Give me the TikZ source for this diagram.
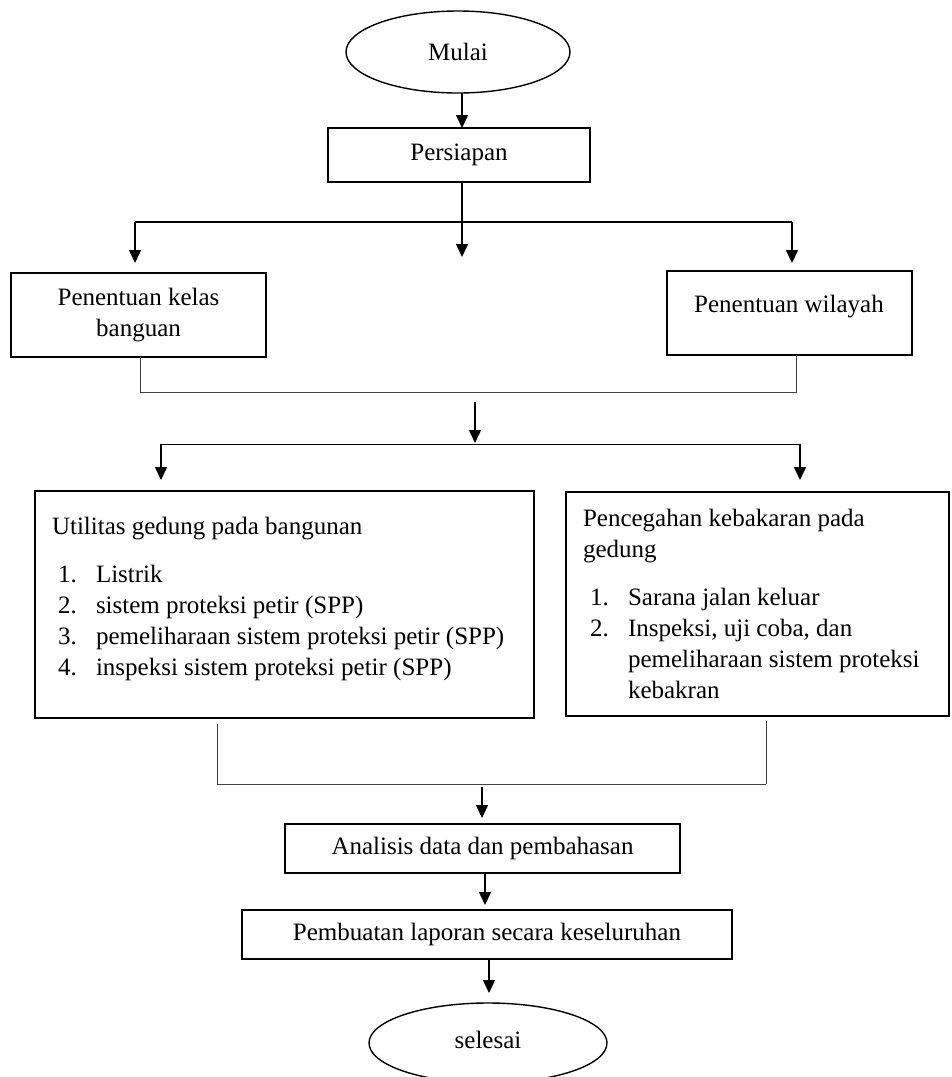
\documentclass[tikz,border=0pt]{standalone}
\usepackage{fontspec}
\setmainfont{Liberation Serif}
\usetikzlibrary{arrows.meta,shapes.geometric}
\begin{document}
\begin{tikzpicture}[x=1pt,y=-1pt,
  every node/.style={font=\fontsize{25pt}{31pt}\selectfont, inner sep=0pt, outer sep=0pt},
  stepbox/.style={draw, line width=1.6pt, rectangle},
  termbox/.style={draw, line width=1.4pt, ellipse},
  txt/.style={anchor=base west},
  arr/.style={line width=1.5pt, -{Triangle[width=12pt,length=13pt]}},
  joinline/.style={line width=0.9pt, draw=black!75}
]
\useasboundingbox (0,0) rectangle (952,1077);

% terminals and boxes
\node[termbox, minimum width=224pt, minimum height=82pt] (mulai) at (458,52) {Mulai};
\node[stepbox, minimum width=262pt, minimum height=54pt] (persiapan) at (459,155) {Persiapan};
\node[stepbox, minimum width=255pt, minimum height=84pt, align=center] (kelas) at (138.5,315) {Penentuan kelas\\banguan};
\node[stepbox, minimum width=245pt, minimum height=84pt] (wilayah) at (789.5,313) {};
\node (wilayahtxt) at (789,307) {Penentuan wilayah};
\node[stepbox, minimum width=499pt, minimum height=227pt] (util) at (284.5,604.5) {};
\node[stepbox, minimum width=383pt, minimum height=224pt] (cegah) at (757.5,604) {};
\node[stepbox, minimum width=395pt, minimum height=49pt] (analisis) at (482.5,848.5) {Analisis data dan pembahasan};
\node[stepbox, minimum width=490pt, minimum height=49pt] (laporan) at (487,934.5) {Pembuatan laporan secara keseluruhan};
\node[termbox, minimum width=238pt, minimum height=80pt] (selesai) at (488,1043) {};
\node (selesaitxt) at (488,1040) {selesai};

% text of the left big box
\node[txt] (u0) at (52,534) {Utilitas gedung pada bangunan};
\node[txt] (u1n) at (58,582) {1.};
\node[txt] (u1) at (96,582) {Listrik};
\node[txt] (u2n) at (58,613) {2.};
\node[txt] (u2) at (96,613) {sistem proteksi petir (SPP)};
\node[txt] (u3n) at (58,644) {3.};
\node[txt] (u3) at (96,644) {pemeliharaan sistem proteksi petir (SPP)};
\node[txt] (u4n) at (58,675) {4.};
\node[txt] (u4) at (96,675) {inspeksi sistem proteksi petir (SPP)};

% text of the right big box
\node[txt] (c0) at (583,526) {Pencegahan kebakaran pada};
\node[txt] (c0b) at (583,557) {gedung};
\node[txt] (c1n) at (590,605) {1.};
\node[txt] (c1) at (628,605) {Sarana jalan keluar};
\node[txt] (c2n) at (590,636) {2.};
\node[txt] (c2) at (628,636) {Inspeksi, uji coba, dan};
\node[txt] (c2b) at (628,667) {pemeliharaan sistem proteksi};
\node[txt] (c2c) at (628,698) {kebakran};

% junction coordinates
\coordinate (m1) at (462,257);
\coordinate (h1l) at (135,222);
\coordinate (h1r) at (792,222);
\coordinate (j1l) at (140,392);
\coordinate (j1r) at (796,392);
\coordinate (a2s) at (475,402);
\coordinate (a2e) at (475,443);
\coordinate (h2l) at (161,444);
\coordinate (h2r) at (800,444);
\coordinate (j3l) at (217,784);
\coordinate (j3r) at (766,784);
\coordinate (a3s) at (482,787);
\coordinate (a4s) at (485,873);
\coordinate (a5s) at (489,959);

% connectors
\draw[arr] (mulai.south -| 462,0) -- (462,0 |- persiapan.north);
\draw[arr] (persiapan.south -| m1) -- (m1);
\draw[line width=1.2pt] (h1l) -- (h1r);
\draw[arr, shorten >=10pt] (h1l) -- (h1l |- kelas.north);
\draw[arr, shorten >=8pt] (h1r) -- (h1r |- wilayah.north);
\draw[joinline] (j1l |- kelas.south) -- (j1l) -- (j1r) -- (j1r |- wilayah.south);
\draw[arr] (a2s) -- (a2e);
\draw[line width=1.0pt] (h2l) -- (h2r);
\draw[arr, shorten >=11pt] (h2l) -- (h2l |- util.north);
\draw[arr, shorten >=12pt] (h2r) -- (h2r |- cegah.north);
\draw[joinline, shorten <=6pt] (j3l |- util.south) -- (j3l);
\draw[joinline, shorten <=5pt] (j3r |- cegah.south) -- (j3r);
\draw[joinline] (j3l) -- (j3r);
\draw[arr, shorten >=6pt] (a3s) -- (a3s |- analisis.north);
\draw[arr, shorten >=5pt] (a4s |- analisis.south) -- (a4s |- laporan.north);
\draw[arr, shorten >=10pt] (a5s |- laporan.south) -- (a5s |- selesai.north);
\end{tikzpicture}
\end{document}
